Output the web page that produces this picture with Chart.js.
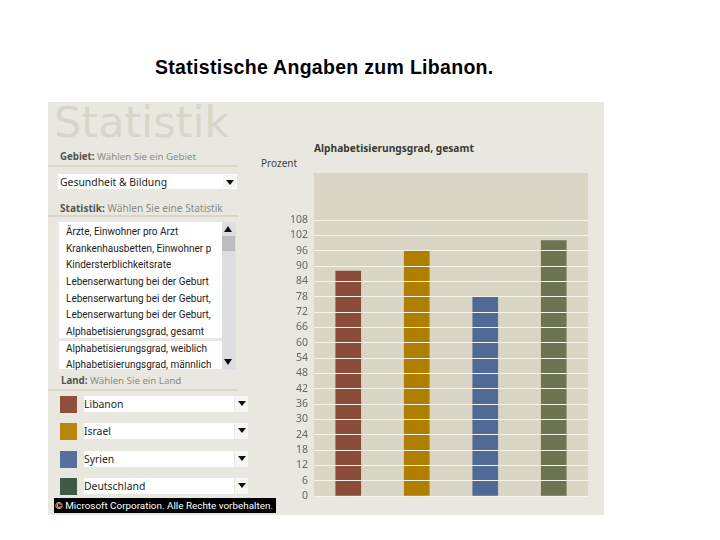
<!DOCTYPE html>
<html>
<head>
<meta charset="utf-8">
<script src="https://cdn.jsdelivr.net/npm/chart.js@4"></script>
<style>
    html, body { margin: 0; padding: 0; background: #fff; }
    body { position: relative; width: 720px; height: 540px; overflow: hidden; }
    div { position: absolute; white-space: nowrap; box-sizing: border-box; }
    canvas { position: absolute; left: 0; top: 0; z-index: 1; }
    .ui { font: 10.4px "Noto Sans", sans-serif; color: #222; line-height: 14px; }
    .narrow { font: 10px Roboto, sans-serif; color: #222; line-height: 14px; }
    .hint { color: #8c8c82; }
    .label { font-weight: bold; color: #55554d; }
    .arrow { width: 0; height: 0; border-left: 4px solid transparent; border-right: 4px solid transparent; border-top: 5px solid #111; }
    .arrow-up { border-top: 0; border-bottom: 6px solid #111; }
</style>
</head>
<body>
<canvas id="chart" width="720" height="540"></canvas>
<script>
/* Data */
const countries = ['Libanon', 'Israel', 'Syrien', 'Deutschland'];
const literacy = [88, 96, 77.7, 100];
const tickValues = [0, 6, 12, 18, 24, 30, 36, 42, 48, 54, 60, 66, 72, 78, 84, 90, 96, 102, 108];
const barColours = ['#8a4b38', '#b07f00', '#4f6a97', '#6c7450'];
const swatchColours = ['#8f4f3d', '#b8860b', '#566f9c', '#3f5b45'];
const statistics = [
    'Ärzte, Einwohner pro Arzt',
    'Krankenhausbetten, Einwohner p',
    'Kindersterblichkeitsrate',
    'Lebenserwartung bei der Geburt',
    'Lebenserwartung bei der Geburt,',
    'Lebenserwartung bei der Geburt,',
    'Alphabetisierungsgrad, gesamt',
    'Alphabetisierungsgrad, weiblich',
    'Alphabetisierungsgrad, männlich',
];

/*******************
 * PAGE - LEFT PANEL AND HEADINGS
 ******************/

function box(x, y, w, h, colour) {
    const el = document.createElement('div');
    el.style.cssText = `left:${x}px;top:${y}px;width:${w}px;height:${h}px;background:${colour}`;
    document.body.appendChild(el);
    return el;
}

function text(str, x, y, className, css) {
    const el = document.createElement('div');
    el.className = className || 'ui';
    el.textContent = str;
    el.style.cssText = `left:${x}px;top:${y}px;${css || ''}`;
    document.body.appendChild(el);
    return el;
}

function labelled(bold, hint, x, y, size) {
    const el = text('', x, y, 'ui', `font-size:${size}px`);
    const b = document.createElement('span');
    b.className = 'label';
    b.textContent = bold;
    const s = document.createElement('span');
    s.className = 'hint';
    s.textContent = ' ' + hint;
    el.append(b, s);
}

function dropButton(x, y, h) {
    box(x, y, 13, h, '#f6f6f2');
    const arrow = document.createElement('div');
    arrow.className = 'arrow';
    arrow.style.left = (x + 3) + 'px';
    arrow.style.top = (y + 5) + 'px';
    document.body.appendChild(arrow);
}

box(48, 102, 556, 413, '#e9e8e0');

text('Statistische Angaben zum Libanon.', 155, 56, 'ui', 'font:bold 19.5px "Liberation Sans",sans-serif;line-height:22px;color:#000;letter-spacing:0.3px');
text('Statistik', 54, 95, 'ui', 'font:43px "DejaVu Sans",sans-serif;line-height:54px;color:#d8d6c8');

labelled('Gebiet:', 'Wählen Sie ein Gebiet', 60, 150, 9.7);
box(48, 165, 190, 2, '#d9d6c8');
box(58, 174, 179, 15, '#fff');
text('Gesundheit & Bildung', 60, 175, 'ui');
dropButton(223, 175, 13);

labelled('Statistik:', 'Wählen Sie eine Statistik', 60, 201, 10.1);
box(48, 215, 190, 2, '#d9d6c8');

// Statistics list with its scrollbar
box(59, 222, 163, 147, '#fff');
box(59, 338, 163, 3, '#e9e8e0');
box(222, 222, 14, 147, '#dedee2');
box(222, 236, 13, 15, '#bdbdbd');
const up = document.createElement('div');
up.className = 'arrow arrow-up';
up.style.cssText = 'left:224px;top:226px';
document.body.appendChild(up);
const down = document.createElement('div');
down.className = 'arrow';
down.style.cssText = 'left:224px;top:359px;border-top-width:6px';
document.body.appendChild(down);
statistics.forEach((name, i) => {
    text(name, 66, 225 + i * 16.65, 'narrow', 'max-width:155px;overflow:hidden');
});

labelled('Land:', 'Wählen Sie ein Land', 61, 374, 9.7);
box(48, 389, 190, 2, '#d9d6c8');

countries.forEach((name, i) => {
    const y = 396 + i * 27.4;
    box(60, y, 17, 17, swatchColours[i]);
    box(84, y, 150, 16, '#fff');
    text(name, 84, y + 1, 'ui');
    dropButton(235, y, 16);
});

box(54, 498, 222, 15, '#000');
text('© Microsoft Corporation. Alle Rechte vorbehalten.', 55, 499, 'narrow', 'color:#fff;font-size:9.9px');

text('Alphabetisierungsgrad, gesamt', 314, 141, 'ui', 'font-weight:bold;color:#3a3a34;font-size:10.2px');
text('Prozent', 261, 156, 'ui', 'color:#44443e;font-size:10px');

/*******************
 * CHART
 ******************/

const plotBackground = {
    id: 'plotBackground',
    beforeDraw(chart) {
        const { ctx, chartArea } = chart;
        ctx.save();
        ctx.fillStyle = '#d9d6c5';
        ctx.fillRect(chartArea.left, chartArea.top, chartArea.width, chartArea.height);
        ctx.restore();
    },
};

new Chart(document.getElementById('chart'), {
    type: 'bar',
    data: {
        labels: countries,
        datasets: [{
            data: literacy,
            backgroundColor: barColours,
            barThickness: 25,
        }],
    },
    options: {
        responsive: false,
        animation: false,
        layout: { padding: { top: 173, right: 132, bottom: 44, left: 0 } },
        plugins: { legend: { display: false }, tooltip: { enabled: false } },
        scales: {
            x: { display: false },
            y: {
                min: 0,
                max: 126.4,
                afterBuildTicks(scale) {
                    scale.ticks = tickValues.map(value => ({ value }));
                },
                afterFit(scale) {
                    scale.width = 314;
                },
                border: { display: false },
                grid: { color: '#f6f4e8', lineWidth: 1, drawTicks: false, z: 1 },
                ticks: {
                    autoSkip: false,
                    padding: 6,
                    color: '#66665c',
                    font: { family: '"Noto Sans", sans-serif', size: 10.5 },
                },
            },
        },
    },
    plugins: [plotBackground],
});
</script>
</body>
</html>
